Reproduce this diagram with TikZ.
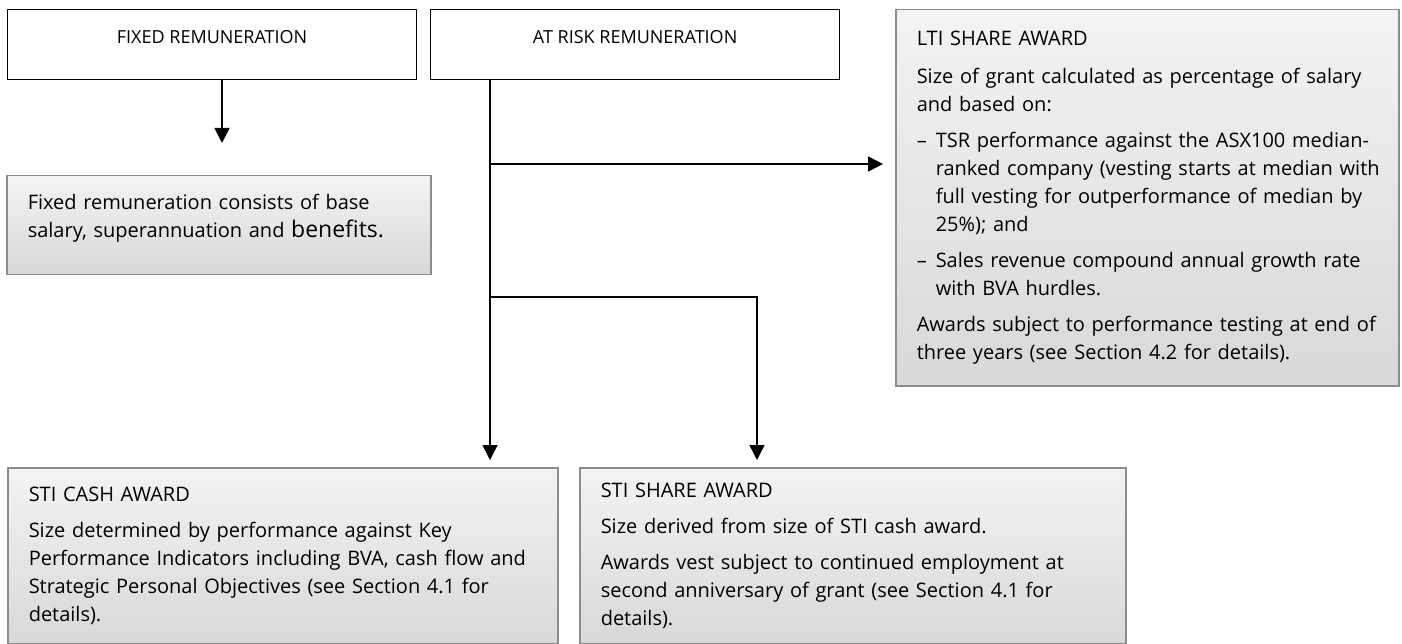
\documentclass[tikz,border=0pt]{standalone}
\usepackage{fontspec}
\setmainfont{Open Sans}
\usetikzlibrary{arrows.meta,shadings}
\definecolor{vien}{HTML}{8C8C8C}
\definecolor{sang}{HTML}{F3F3F3}
\definecolor{toi}{HTML}{D8D8D8}

\begin{document}
\begin{tikzpicture}[x=1pt,y=-1pt]
	\tikzset{
	khung/.style={draw,line width=1.2pt,fill=white,anchor=north west,minimum width=409pt,inner ysep=0pt,text height=34pt,text depth=36pt,font=\fontsize{18}{22}\selectfont},
	hop/.style={draw=vien,line width=1.5pt,top color=sang,bottom color=toi,anchor=north west,inner xsep=21pt,align=left,font=\fontsize{20}{28}\selectfont},
	muiten/.style={line width=1.5pt,-{Triangle[width=15pt,length=15pt]}}
	}
	\useasboundingbox (0,0) rectangle (1402,644);
	\path
	(7,9) node[khung](A){FIXED REMUNERATION}
	(430,9) node[khung](B){AT RISK REMUNERATION}
	(6,175) node[hop,text width=382pt,minimum height=99pt,text depth=47pt](C){Fixed remuneration consists of base\\
	salary, superannuation and {\fontsize{23}{28}\selectfont benefits.}}
	(895,9) node[hop,text width=461pt,minimum height=376pt](D){LTI SHARE AWARD\\[10pt]
	Size of grant calculated as percentage of salary\\
	and based on:\\[8pt]
	\makebox[19pt][l]{–}TSR performance against the ASX100 median-\\
	\hspace*{19pt}\mbox{ranked company (vesting starts at median with}\\
	\hspace*{19pt}full vesting for outperformance of median by\\
	\hspace*{19pt}25\%); and\\[8pt]
	\makebox[19pt][l]{–}Sales revenue compound annual growth rate\\
	\hspace*{19pt}with BVA hurdles.\\[8pt]
	Awards subject to performance testing at end of\\
	three years (see Section 4.2 for details).}
	(7,467) node[hop,text width=508pt,minimum height=176pt](E){STI CASH AWARD\\[8pt]
	Size determined by performance against Key\\
	Performance Indicators including BVA, cash flow and\\
	Strategic Personal Objectives (see Section 4.1 for\\
	details).}
	(579,467) node[hop,text width=504pt,minimum height=176pt](F){STI SHARE AWARD\\[8pt]
	Size derived from size of STI cash award.\\[8pt]
	Awards vest subject to continued employment at\\
	second anniversary of grant (see Section 4.1 for\\
	details).}
	;
	\path
	(222,79) coordinate(a0)
	(490,79) coordinate(b0)
	(490,164) coordinate(b1)
	(490,297) coordinate(b2)
	(757,297) coordinate(b3)
	;
	\draw[muiten,shorten >=32pt] (a0)--(a0|-C.north);
	\draw[muiten,shorten >=7pt] (b0)--(b0|-E.north);
	\draw[muiten,shorten >=12pt] (b1)--(b1-|D.west);
	\draw[muiten,shorten >=7pt] (b2)--(b3)--(b3|-F.north);
\end{tikzpicture}
\end{document}
